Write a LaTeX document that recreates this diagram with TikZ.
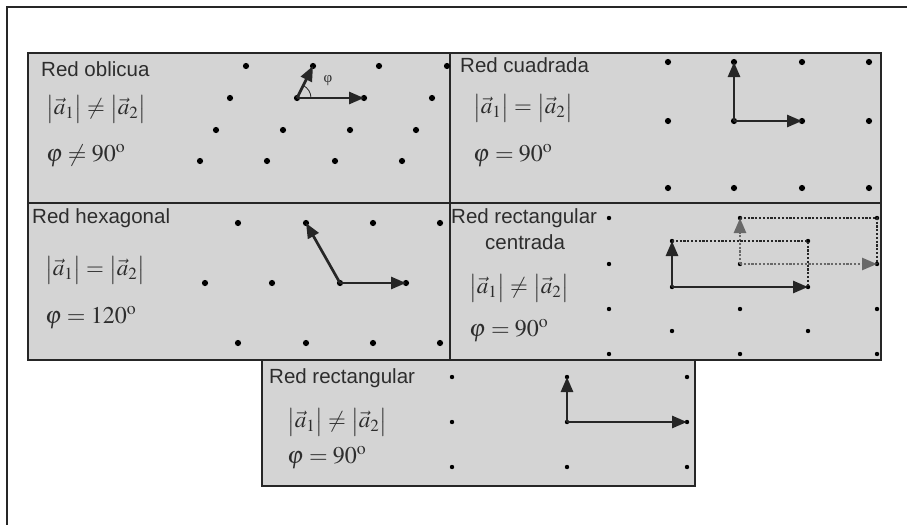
\documentclass[tikz,border=0pt]{standalone}
\usepackage{mathptmx}
\usepackage{fontspec}
\setmainfont{Liberation Sans}
\newfontfamily\serifgreek{Liberation Serif}
\usetikzlibrary{arrows.meta}
\definecolor{panelgray}{RGB}{212,212,212}
\definecolor{txtgray}{RGB}{45,45,45}
\definecolor{arrgray}{RGB}{105,105,105}
\tikzset{
  panel/.style={draw=black!85, line width=1.4pt, fill=panelgray},
  bigdot/.style={circle, fill=black, inner sep=0pt, minimum size=6.2pt},
  smalldot/.style={circle, fill=black, inner sep=0pt, minimum size=4.4pt},
  vecarrow/.style={line width=2.7pt, draw=black!85, -{Triangle[length=15pt,width=12pt]}},
  greyarrow/.style={line width=2.6pt, draw=arrgray, dash pattern=on 2.2pt off 1.6pt, -{Triangle[length=15pt,width=12pt]}},
  dotline/.style={line width=2.6pt, draw=black!85, dash pattern=on 2.2pt off 1.6pt},
  title/.style={anchor=base west, inner sep=0pt, text=txtgray, font=\fontsize{20.5}{24}\selectfont},
  formula/.style={anchor=west, inner sep=0pt, text=txtgray, font=\fontsize{23}{27}\selectfont},
  angform/.style={anchor=base west, inner sep=0pt, text=txtgray, font=\fontsize{24}{28}\selectfont},
}
\newcommand{\modneq}{$\big|\vec{a}_1\big| \neq \big|\vec{a}_2\big|$}
\newcommand{\modeq}{$\big|\vec{a}_1\big| = \big|\vec{a}_2\big|$}
\begin{document}
\begin{tikzpicture}[x=1pt,y=-1pt]
\useasboundingbox (0,0) rectangle (907,525);
% outer frame (top and left edges)
\draw[line width=1.5pt, black!85] (907,7) -- (7,7) -- (7,525);

% panels
\path[panel] (28,53) rectangle (450,203);
\path[panel] (450,53) rectangle (881,203);
\path[panel] (28,203) rectangle (450,360);
\path[panel] (450,203) rectangle (881,360);
\path[panel] (262,360) rectangle (695,486);

% ---------- Panel 1: Red oblicua
\node[title] (t1) at (41,76) {Red oblicua};
\node[formula] (f1) at (46,109) {\modneq};
\node[angform] (g1) at (46,161) {$\varphi \neq 90^{\mathrm{o}}$};
\foreach \x [count=\i] in {246,313,379,447} \node[bigdot] (pa\i) at (\x,66) {};
\foreach \x [count=\i] in {230,297,364,432} \node[bigdot] (pb\i) at (\x,98) {};
\foreach \x [count=\i] in {216,283,350,416} \node[bigdot] (pc\i) at (\x,130) {};
\foreach \x [count=\i] in {200,267,335,402} \node[bigdot] (pd\i) at (\x,161) {};
\draw[vecarrow] (pb2.center) -- (pb3.center);
\draw[vecarrow] (pb2.center) -- (pa2.center);
\draw[line width=0.8pt, black!85] ([xshift=14pt]pb2.center) arc[start angle=0, end angle=63.4, radius=14pt];
\node[inner sep=0pt, text=txtgray, font=\serifgreek\fontsize{15}{17}\selectfont] (phi1) at (328,81) {φ};

% ---------- Panel 2: Red cuadrada
\node[title] (t2) at (460,72) {Red cuadrada};
\node[formula] (f2) at (473,108) {\modeq};
\node[angform] (g2) at (473,161) {$\varphi = 90^{\mathrm{o}}$};
\foreach \x [count=\i] in {668,734,802,869} {
  \node[bigdot] (qa\i) at (\x,62) {};
  \node[bigdot] (qb\i) at (\x,121) {};
  \node[bigdot] (qc\i) at (\x,188) {};
}
\draw[vecarrow] (qb2.center) -- (qb3.center);
\draw[vecarrow] (qb2.center) -- (qa2.center);

% ---------- Panel 3: Red hexagonal
\node[title] (t3) at (32,223) {Red hexagonal};
\node[formula] (f3) at (45,270) {\modeq};
\node[angform] (g3) at (45,323) {$\varphi = 120^{\mathrm{o}}$};
\foreach \x [count=\i] in {238,306,373,440} {
  \node[bigdot] (ha\i) at (\x,223) {};
  \node[bigdot] (hc\i) at (\x,343) {};
}
\foreach \x [count=\i] in {205,272,340,406} \node[bigdot] (hb\i) at (\x,283) {};
\draw[vecarrow] (hb3.center) -- (hb4.center);
\draw[vecarrow] (hb3.center) -- (ha2.center);

% ---------- Panel 4: Red rectangular centrada
\node[title] (t4) at (451,223) {Red rectangular};
\node[title] (t4b) at (485,249) {centrada};
\node[formula] (f4) at (469,288) {\modneq};
\node[angform] (g4) at (469,336) {$\varphi = 90^{\mathrm{o}}$};
\foreach \x [count=\i] in {609,740,877} {
  \node[smalldot] (ra\i) at (\x,218) {};
  \node[smalldot] (rb\i) at (\x,264) {};
  \node[smalldot] (rc\i) at (\x,309) {};
  \node[smalldot] (rd\i) at (\x,354) {};
}
\foreach \x [count=\i] in {672,808} {
  \node[smalldot] (sa\i) at (\x,241) {};
  \node[smalldot] (sb\i) at (\x,287) {};
  \node[smalldot] (sc\i) at (\x,331) {};
}
% grey (shifted) cell
\draw[dotline] (ra2.center) -- (ra3.center) -- (rb3.center);
\draw[greyarrow] (rb2.center) -- (rb3.center);
\draw[greyarrow] (rb2.center) -- (ra2.center);
% black cell
\draw[dotline] (sa1.center) -- (sa2.center) -- (sb2.center);
\draw[vecarrow] (sb1.center) -- (sb2.center);
\draw[vecarrow] (sb1.center) -- (sa1.center);

% ---------- Panel 5: Red rectangular
\node[title] (t5) at (269,383) {Red rectangular};
\node[formula] (f5) at (287,422) {\modneq};
\node[angform] (g5) at (287,463) {$\varphi = 90^{\mathrm{o}}$};
\foreach \x [count=\i] in {452,567,687} {
  \node[smalldot] (ua\i) at (\x,377) {};
  \node[smalldot] (ub\i) at (\x,422) {};
  \node[smalldot] (uc\i) at (\x,467) {};
}
\draw[vecarrow] (ub2.center) -- (ub3.center);
\draw[vecarrow] (ub2.center) -- (ua2.center);
\end{tikzpicture}
\end{document}
